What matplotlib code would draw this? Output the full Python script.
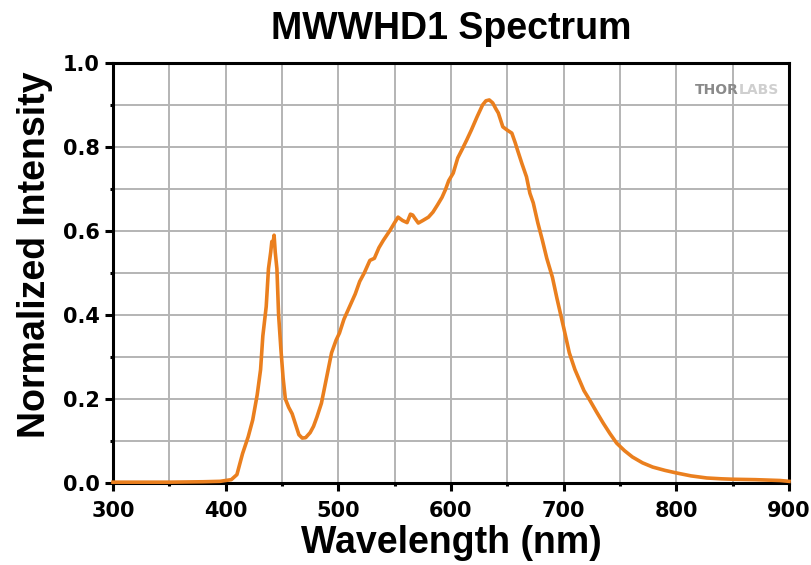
import matplotlib
matplotlib.use("Agg")
import matplotlib.pyplot as plt
from matplotlib.ticker import MultipleLocator, FormatStrFormatter

wavelength = [300, 350, 380, 395, 405, 410, 415, 420, 424, 428, 431, 433, 436, 438, 440, 441, 442, 443, 444,
              445.5, 447, 449, 451, 453, 456, 459, 462, 465, 468, 471, 475, 478, 481, 485, 488, 491, 494, 498,
              501, 505, 510, 515, 519, 523, 528, 532, 536, 540, 546, 550, 553, 557, 561, 564, 566, 568, 571,
              575, 580, 584, 588, 592, 595, 598, 602, 606, 610, 614, 618, 623, 628, 631, 634, 637, 640, 642,
              646, 650, 654, 657, 659, 663, 667, 670, 673, 677, 681, 685, 690, 694, 697, 700, 705, 710, 714,
              718, 723, 729, 735, 741, 747, 754, 761, 770, 779, 790, 800, 813, 827, 840, 850, 870, 892, 900]
intensity = [0.002, 0.002, 0.003, 0.004, 0.008, 0.02, 0.07, 0.11, 0.15, 0.21, 0.27, 0.35, 0.42, 0.51, 0.55,
             0.575, 0.57, 0.59, 0.55, 0.51, 0.40, 0.32, 0.25, 0.20, 0.18, 0.165, 0.14, 0.115, 0.107, 0.108,
             0.12, 0.135, 0.157, 0.19, 0.23, 0.27, 0.31, 0.34, 0.357, 0.39, 0.42, 0.45, 0.48, 0.50, 0.53,
             0.535, 0.56, 0.578, 0.602, 0.62, 0.633, 0.625, 0.62, 0.64, 0.638, 0.63, 0.619, 0.625, 0.633,
             0.645, 0.662, 0.68, 0.698, 0.72, 0.738, 0.774, 0.795, 0.817, 0.84, 0.871, 0.9, 0.91, 0.912,
             0.905, 0.89, 0.881, 0.848, 0.84, 0.833, 0.81, 0.793, 0.76, 0.729, 0.69, 0.667, 0.62, 0.579,
             0.535, 0.49, 0.44, 0.405, 0.37, 0.31, 0.27, 0.245, 0.22, 0.198, 0.17, 0.143, 0.118, 0.095,
             0.077, 0.062, 0.048, 0.038, 0.03, 0.024, 0.017, 0.012, 0.01, 0.009, 0.008, 0.006, 0.004]

title = "MWWHD1 Spectrum"
xlabel = "Wavelength (nm)"
ylabel = "Normalized Intensity"

plt.rcParams['font.family'] = ['Liberation Sans', 'DejaVu Sans']

fig = plt.figure(figsize=(8.11, 5.65), dpi=100)
ax = fig.add_axes([0.1393, 0.1451, 0.8336, 0.7434])

ax.plot(wavelength, intensity, color="#EA7F1E", lw=2.6, zorder=4, clip_on=False)

ax.set_xlim(300, 900)
ax.set_ylim(0, 1.0)
ax.xaxis.set_major_locator(MultipleLocator(100))
ax.xaxis.set_minor_locator(MultipleLocator(50))
ax.yaxis.set_major_locator(MultipleLocator(0.2))
ax.yaxis.set_minor_locator(MultipleLocator(0.1))
ax.yaxis.set_major_formatter(FormatStrFormatter("%.1f"))
ax.grid(True, which="both", color="#b4b4b4", lw=1.4, zorder=0)
ax.set_axisbelow(True)

ax.tick_params(which="both", direction="out", width=2.2, color="black")
ax.tick_params(which="major", length=6, labelsize=15)
ax.tick_params(which="minor", length=2.5)
ax.tick_params(axis="x", which="major", pad=7)
ax.tick_params(axis="y", which="major", pad=3.5)
for lab in ax.get_xticklabels() + ax.get_yticklabels():
    lab.set_fontweight("bold")
    lab.set_fontfamily("DejaVu Sans")

for sp in ax.spines.values():
    sp.set_linewidth(2.2)
    sp.set_color("black")

ax.set_xlabel(xlabel, fontsize=27, fontweight="bold", labelpad=3)
ax.set_ylabel(ylabel, fontsize=27, fontweight="bold")
ax.yaxis.set_label_coords(-0.089, 0.543)
ax.set_title(title, fontsize=27, fontweight="bold", pad=17)

ax.text(0.925, 0.952, "THOR", transform=ax.transAxes, fontsize=10, fontweight="bold",
        family="DejaVu Sans", color="#8a8a8a", ha="right", va="top")
ax.text(0.925, 0.952, "LABS", transform=ax.transAxes, fontsize=10, fontweight="bold",
        family="DejaVu Sans", color="#cfcfcf", ha="left", va="top")

fig.savefig("out.png", dpi=100)
